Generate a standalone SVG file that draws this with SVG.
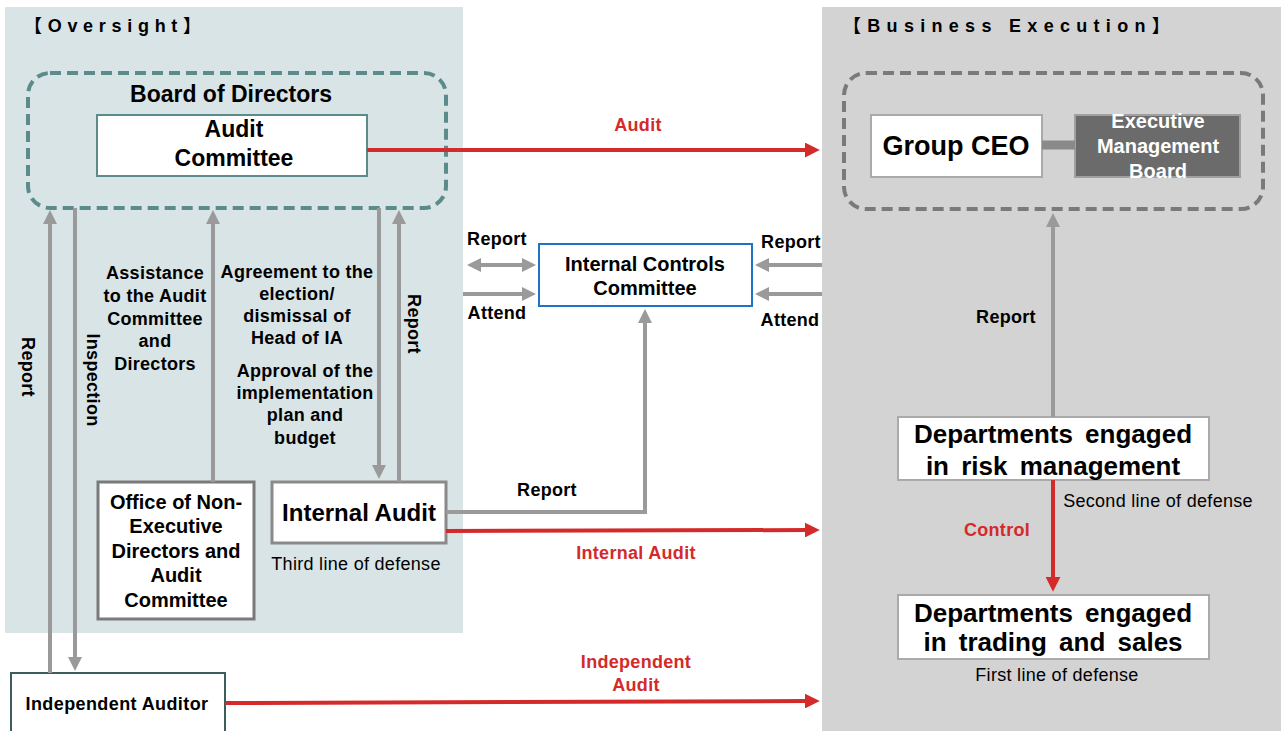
<svg xmlns="http://www.w3.org/2000/svg" width="1281" height="731" viewBox="0 0 1281 731">
<defs>
<marker id="ag" viewBox="0 0 14 14" markerWidth="14" markerHeight="14" markerUnits="userSpaceOnUse" refX="3" refY="7" orient="auto-start-reverse"><path d="M0,0 L14,7 L0,14 z" fill="#9a9a9a"/></marker>
<marker id="ar" viewBox="0 0 14 14" markerWidth="15" markerHeight="15" markerUnits="userSpaceOnUse" refX="3" refY="7" orient="auto"><path d="M0,0 L14,7 L0,14 z" fill="#d42a2a"/></marker>
</defs>
<style>
text{font-family:"Liberation Sans",Arial,"Noto Sans CJK JP",sans-serif;fill:#000}
.b{font-weight:bold}
.c{text-anchor:middle}
.l{font-size:18px;letter-spacing:0.3px}
.hd{font-size:18px;font-weight:bold;letter-spacing:5.7px}
.red{fill:#d42a2a;font-weight:bold;font-size:18px;letter-spacing:0.3px}
.g{stroke:#9a9a9a;stroke-width:4;fill:none}
.r{stroke:#d42a2a;stroke-width:4;fill:none}
.box{fill:#fff}
</style>
<rect width="1281" height="731" fill="#fff"/>
<rect x="5" y="7" width="458" height="626" fill="#d9e4e6"/>
<rect x="822" y="7" width="459" height="724" fill="#d3d3d3"/>
<text class="hd" x="24" y="32">【Oversight】</text>
<text class="hd" x="843" y="32" style="letter-spacing:6.3px">【Business Execution】</text>

<g id="board">
<rect x="28" y="73" width="418" height="135" rx="22" fill="none" stroke="#5b8b8b" stroke-width="4" stroke-dasharray="11,6"/>
<text class="b c" x="231" y="102" font-size="23">Board of Directors</text>
</g>
<g id="audit-committee">
<rect class="box" x="97" y="115" width="270" height="61" stroke="#5b8b8b" stroke-width="2"/>
<text class="b c" x="234" y="137" font-size="23">Audit</text>
<text class="b c" x="234" y="166" font-size="23">Committee</text>
</g>
<g id="exec-group">
<rect x="844" y="73" width="419" height="136" rx="22" fill="none" stroke="#7a7a7a" stroke-width="4" stroke-dasharray="11,6"/>
</g>
<g id="group-ceo">
<rect class="box" x="871" y="115" width="171" height="62" stroke="#aaa" stroke-width="2"/>
<text class="b c" x="956" y="155" font-size="27">Group CEO</text>
</g>
<g id="emb">
<rect x="1075" y="115" width="165" height="62" fill="#6b6b6b" stroke="#a0a0a0" stroke-width="2"/>
<text class="b c" x="1158" y="128" font-size="20" style="fill:#fff">Executive</text>
<text class="b c" x="1158" y="153" font-size="20" style="fill:#fff">Management</text>
<text class="b c" x="1158" y="178" font-size="20" style="fill:#fff">Board</text>
</g>
<g id="icc">
<rect class="box" x="539" y="244" width="213" height="62" stroke="#1f73c4" stroke-width="2"/>
<text class="b c" x="645" y="271" font-size="20">Internal Controls</text>
<text class="b c" x="645" y="295" font-size="20">Committee</text>
</g>
<g id="office">
<rect class="box" x="98" y="482" width="156" height="137" stroke="#7a7a7a" stroke-width="3"/>
<text class="b c" x="176" y="509" font-size="20">Office of Non-</text>
<text class="b c" x="176" y="533" font-size="20">Executive</text>
<text class="b c" x="176" y="558" font-size="20">Directors and</text>
<text class="b c" x="176" y="582" font-size="20">Audit</text>
<text class="b c" x="176" y="607" font-size="20">Committee</text>
</g>
<g id="internal-audit">
<rect class="box" x="272" y="482" width="174" height="61" stroke="#8a8a8a" stroke-width="3"/>
<text class="b c" x="359" y="521" font-size="24">Internal Audit</text>
<text class="c l" x="356" y="570">Third line of defense</text>
</g>
<g id="independent-auditor">
<rect class="box" x="11" y="673" width="214" height="62" stroke="#3d5c5c" stroke-width="2"/>
<text class="b c" x="117" y="710" font-size="18" letter-spacing="0.4">Independent Auditor</text>
</g>
<g id="risk">
<rect class="box" x="898" y="417" width="311" height="63" stroke="#aaa" stroke-width="2"/>
<text class="b c" x="1053" y="443" font-size="26" word-spacing="5">Departments engaged</text>
<text class="b c" x="1053" y="475" font-size="26" word-spacing="5">in risk management</text>
<text class="c l" x="1158" y="507">Second line of defense</text>
</g>
<g id="trading">
<rect class="box" x="898" y="595" width="311" height="64" stroke="#aaa" stroke-width="2"/>
<text class="b c" x="1053" y="622" font-size="26" word-spacing="5">Departments engaged</text>
<text class="b c" x="1053" y="651" font-size="26" word-spacing="5">in trading and sales</text>
<text class="c l" x="1057" y="681">First line of defense</text>
</g>

<g id="connectors">
<line x1="1042" y1="145" x2="1075" y2="145" stroke="#8a8a8a" stroke-width="9"/>
<line class="r" x1="367" y1="150" x2="808" y2="150" marker-end="url(#ar)"/>
<line class="g" x1="478" y1="265" x2="525" y2="265" marker-start="url(#ag)" marker-end="url(#ag)"/>
<line class="g" x1="463" y1="294" x2="525" y2="294" marker-end="url(#ag)"/>
<line class="g" x1="822" y1="265" x2="766" y2="265" marker-end="url(#ag)"/>
<line class="g" x1="822" y1="294" x2="766" y2="294" marker-end="url(#ag)"/>
<line class="g" x1="50" y1="673" x2="50" y2="221" marker-end="url(#ag)"/>
<line class="g" x1="75" y1="208" x2="75" y2="660" marker-end="url(#ag)"/>
<line class="g" x1="213" y1="482" x2="213" y2="221" marker-end="url(#ag)"/>
<line class="g" x1="379" y1="208" x2="379" y2="468" marker-end="url(#ag)"/>
<line class="g" x1="399" y1="482" x2="399" y2="221" marker-end="url(#ag)"/>
<path class="g" d="M446,512 H645 V320" marker-end="url(#ag)"/>
<line class="r" x1="446" y1="531" x2="808" y2="530" marker-end="url(#ar)"/>
<line class="r" x1="225" y1="703" x2="808" y2="701" marker-end="url(#ar)"/>
<line class="g" x1="1053" y1="417" x2="1053" y2="224" marker-end="url(#ag)"/>
<line class="r" x1="1053" y1="480" x2="1053" y2="580" marker-end="url(#ar)"/>
</g>

<g id="labels">
<text class="red c" x="638" y="131">Audit</text>
<text class="b c l" x="497" y="245">Report</text>
<text class="b c l" x="497" y="319">Attend</text>
<text class="b c l" x="791" y="248">Report</text>
<text class="b c l" x="790" y="326">Attend</text>
<text class="b c l" transform="translate(22,367) rotate(90)">Report</text>
<text class="b c l" transform="translate(87,380) rotate(90)">Inspection</text>
<text class="b c l" transform="translate(408,324) rotate(90)">Report</text>
<text class="b c l" x="155" y="279">Assistance</text>
<text class="b c l" x="155" y="302">to the Audit</text>
<text class="b c l" x="155" y="325">Committee</text>
<text class="b c l" x="155" y="347">and</text>
<text class="b c l" x="155" y="370">Directors</text>
<text class="b c l" x="297" y="278">Agreement to the</text>
<text class="b c l" x="297" y="300">election/</text>
<text class="b c l" x="297" y="322">dismissal of</text>
<text class="b c l" x="297" y="344">Head of IA</text>
<text class="b c l" x="305" y="377">Approval of the</text>
<text class="b c l" x="305" y="399">implementation</text>
<text class="b c l" x="305" y="421">plan and</text>
<text class="b c l" x="305" y="444">budget</text>
<text class="b c l" x="547" y="496">Report</text>
<text class="red c" x="636" y="559">Internal Audit</text>
<text class="red c" x="636" y="668">Independent</text>
<text class="red c" x="636" y="691">Audit</text>
<text class="b c l" x="1006" y="323">Report</text>
<text class="red c" x="997" y="536">Control</text>
</g>
</svg>
